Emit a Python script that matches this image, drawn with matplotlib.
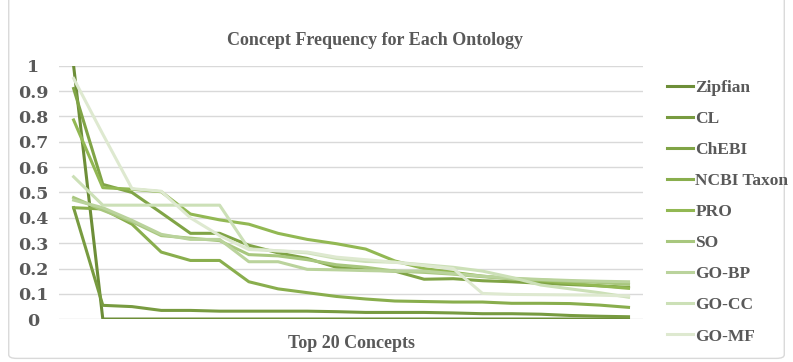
import matplotlib
matplotlib.use('Agg')
import matplotlib.pyplot as plt
from matplotlib.patches import FancyBboxPatch
import numpy as np

# Normalised frequency of the top 20 concepts in each ontology
ranks = list(range(1, 21))
zipfian = [1.0, 0.001, 0.001, 0.001, 0.001, 0.001, 0.001, 0.001, 0.001, 0.001,
           0.001, 0.001, 0.001, 0.001, 0.001, 0.001, 0.001, 0.001, 0.001, 0.001]
cl = [0.44, 0.055, 0.05, 0.035, 0.035, 0.032, 0.032, 0.032, 0.032, 0.03,
      0.027, 0.027, 0.027, 0.025, 0.022, 0.022, 0.02, 0.015, 0.012, 0.01]
chebi = [0.91, 0.532, 0.5, 0.42, 0.339, 0.339, 0.292, 0.262, 0.24, 0.205,
         0.195, 0.19, 0.158, 0.16, 0.152, 0.148, 0.142, 0.137, 0.132, 0.126]
ncbi_taxon = [0.44, 0.435, 0.375, 0.265, 0.232, 0.232, 0.148, 0.12, 0.105, 0.09,
              0.08, 0.072, 0.07, 0.068, 0.068, 0.063, 0.063, 0.062, 0.056, 0.047]
pro = [0.786, 0.519, 0.513, 0.503, 0.415, 0.392, 0.375, 0.339, 0.315, 0.298,
       0.277, 0.23, 0.2, 0.185, 0.17, 0.16, 0.152, 0.142, 0.132, 0.122]
so = [0.48, 0.43, 0.385, 0.33, 0.32, 0.31, 0.255, 0.25, 0.235, 0.215,
      0.205, 0.19, 0.185, 0.178, 0.168, 0.16, 0.155, 0.15, 0.145, 0.138]
go_bp = [0.47, 0.44, 0.39, 0.335, 0.315, 0.315, 0.227, 0.227, 0.197, 0.195,
         0.192, 0.19, 0.19, 0.18, 0.17, 0.162, 0.157, 0.153, 0.15, 0.148]
go_cc = [0.562, 0.45, 0.45, 0.45, 0.45, 0.45, 0.278, 0.27, 0.262, 0.24,
         0.228, 0.225, 0.215, 0.205, 0.19, 0.165, 0.135, 0.12, 0.105, 0.087]
go_mf = [0.95, 0.73, 0.515, 0.505, 0.4, 0.33, 0.275, 0.27, 0.265, 0.245,
         0.235, 0.225, 0.212, 0.2, 0.102, 0.098, 0.097, 0.096, 0.095, 0.092]

series_names = ['Zipfian', 'CL', 'ChEBI', 'NCBI Taxon', 'PRO', 'SO', 'GO-BP', 'GO-CC', 'GO-MF']
series_values = [zipfian, cl, chebi, ncbi_taxon, pro, so, go_bp, go_cc, go_mf]
colors = ['#6d8e38', '#789b40', '#80a446', '#89ae4d', '#92b853',
          '#a8c77e', '#bad39c', '#cce0b7', '#dee9d0']

text_color = '#595959'
serif = 'Liberation Serif'
tick_font = 'DejaVu Serif'

fig = plt.figure(figsize=(7.93, 3.62), dpi=100)
ax = fig.add_axes([0.0744, 0.118, 0.7366, 0.7005])

# light rounded border around the whole chart
fig.patches.append(FancyBboxPatch((0.011, 0.01), 0.978, 1.2, boxstyle='round,pad=0,rounding_size=0.01',
                                  transform=fig.transFigure, fill=False, edgecolor='#d9d9d9', lw=1))

x = np.arange(len(ranks))
for name, vals, c in zip(series_names, series_values, colors):
    ax.plot(x, vals, color=c, lw=2.2, label=name, solid_joinstyle='round')

ax.set_xlim(-0.5, len(ranks) - 0.5)
ax.set_ylim(0, 1)
ax.set_yticks(np.arange(0, 1.01, 0.1))
ax.set_yticklabels(['0'] + ['%.1f' % v for v in np.arange(0.1, 0.95, 0.1)] + ['1'])
ax.set_xticks([])
ax.yaxis.grid(True, color='#d9d9d9', lw=1)
ax.set_axisbelow(True)
for s in ax.spines.values():
    s.set_visible(False)
ax.tick_params(axis='y', length=0, pad=18.5, labelcolor=text_color)
for lab in ax.get_yticklabels():
    lab.set_fontfamily(tick_font)
    lab.set_fontweight('bold')
    lab.set_fontsize(12.5)
    lab.set_horizontalalignment('center')

ax.set_xlabel('Top 20 Concepts', fontfamily=serif, fontweight='bold', fontsize=13,
              color=text_color, labelpad=11.5)
fig.text(0.473, 0.888, 'Concept Frequency for Each Ontology', ha='center', va='center',
         fontfamily=serif, fontweight='bold', fontsize=13, color=text_color)

leg = fig.legend(loc='upper left', bbox_to_anchor=(0.821, 0.823), frameon=False,
                 handlelength=1.5, handletextpad=0.15, labelspacing=0.86,
                 prop={'family': serif, 'weight': 'bold', 'size': 12.5})
for t in leg.get_texts():
    t.set_color(text_color)

fig.savefig('out.png', dpi=100)
